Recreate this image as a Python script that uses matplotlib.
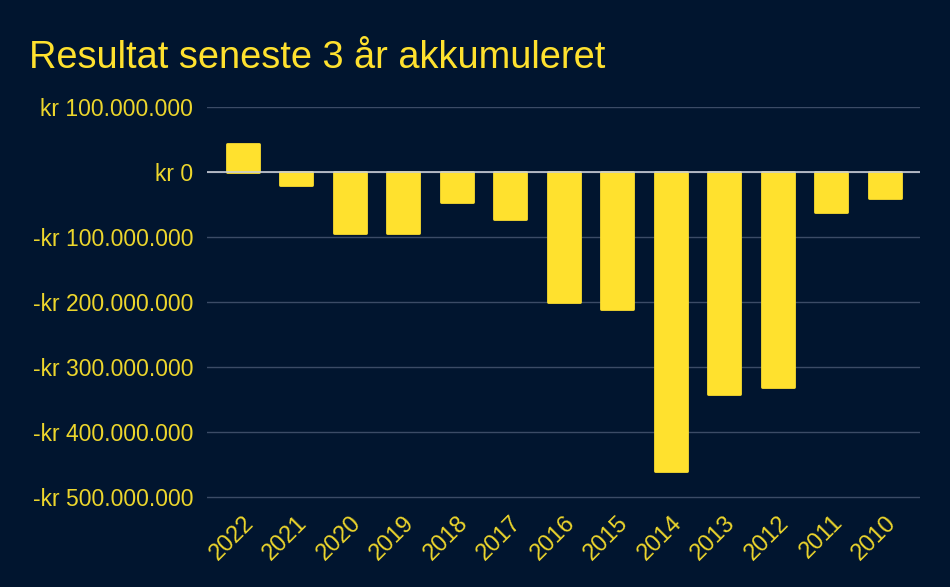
import matplotlib.pyplot as plt
import numpy as np
from matplotlib.ticker import FuncFormatter

# data
years = ['2022', '2021', '2020', '2019', '2018', '2017', '2016',
         '2015', '2014', '2013', '2012', '2011', '2010']
values = [43e6, -20e6, -94e6, -94e6, -46e6, -72e6, -200e6,
          -211e6, -460e6, -342e6, -331e6, -62e6, -40e6]
yticks = [100e6, 0, -100e6, -200e6, -300e6, -400e6, -500e6]

bg = '#01152F'
yellow = '#FFE12E'
txt = '#EDD62C'

plt.rcParams['font.family'] = ['Liberation Sans', 'DejaVu Sans']

fig = plt.figure(figsize=(9.5, 5.87), dpi=100, facecolor=bg)
ax = fig.add_axes([0.218, 0.150, 0.750, 0.6677])
ax.set_facecolor(bg)

x = np.arange(len(years))
ax.bar(x, values, width=0.6, color=yellow, edgecolor=yellow,
       linewidth=2, joinstyle='round', zorder=2)

ax.set_xlim(-0.67, len(years) - 1 + 0.65)
ax.set_ylim(-503e6, 100e6)

def kr(v, pos):
    s = f'{abs(v):,.0f}'.replace(',', '.')
    return ('-kr ' if v < 0 else 'kr ') + s

ax.set_yticks(yticks)
ax.yaxis.set_major_formatter(FuncFormatter(kr))
ax.grid(axis='y', color='#3B4B66', linewidth=1, zorder=0)
ax.axhline(0, color='#C9CDD6', linewidth=1.2, zorder=3)

ax.set_xticks(x)
ax.set_xticklabels(years, rotation=45, ha='right', rotation_mode='anchor')
ax.tick_params(axis='both', length=0, colors=txt)
ax.tick_params(axis='y', pad=10, labelsize=16.5)
ax.tick_params(axis='x', pad=9, labelsize=17)
for s in ax.spines.values():
    s.set_visible(False)

fig.text(0.031, 0.885, 'Resultat seneste 3 år akkumuleret', color=yellow,
         fontsize=27.4, ha='left', va='baseline')

fig.savefig('out.png', dpi=100, facecolor=bg)
